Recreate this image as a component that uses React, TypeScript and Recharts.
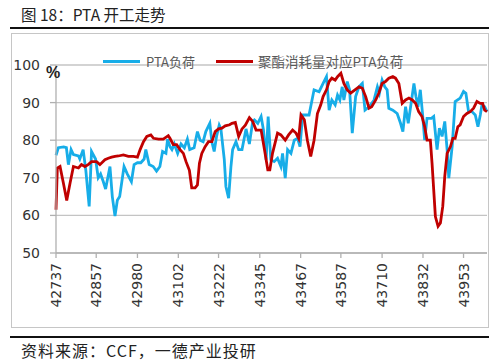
import React from 'react';
import { LineChart, Line, XAxis, YAxis, CartesianGrid } from 'recharts';

// Excel serial dates (x) and values for "PTA负荷"
const blueDates = [
  42737, 42744, 42760, 42768, 42774, 42782, 42789, 42804, 42808, 42818, 42826, 42836, 42843, 42855, 42863, 42870,
  42878, 42885, 42898, 42905, 42913, 42920, 42927, 42940, 42950, 42962, 42970, 42980, 42990, 43000, 43005, 43015,
  43027, 43037, 43047, 43055, 43065, 43070, 43077, 43083, 43090, 43100, 43110, 43120, 43129, 43136, 43149, 43159,
  43167, 43176, 43184, 43196, 43202, 43209, 43216, 43224, 43229, 43239, 43244, 43252, 43259, 43264, 43274, 43282,
  43292, 43304,
  43314, 43324, 43329, 43339, 43349, 43356, 43364, 43370, 43378, 43388, 43398, 43408, 43413, 43421, 43428, 43438,
  43448, 43458, 43465, 43473, 43482, 43492, 43507, 43522, 43534, 43544, 43552, 43560, 43570, 43577, 43584, 43591,
  43596, 43606, 43613, 43621, 43631, 43641, 43651, 43659, 43666, 43676, 43686, 43696, 43702, 43710, 43718, 43725,
  43730, 43742, 43755, 43765, 43772, 43780, 43788, 43798, 43805, 43811, 43817, 43824, 43831, 43837, 43844, 43857,
  43864, 43874, 43881, 43889, 43897, 43904, 43909, 43919, 43928, 43943, 43953, 43960, 43968, 43978, 43988, 43996,
  44003, 44008, 44016, 44023,
];
const blueValues = [
  76, 78, 78.2, 78, 73.5, 77.5, 76.2, 75.8, 75, 77.5, 72, 62.4, 77, 75, 70, 71,
  69, 67, 73, 65, 59.8, 64, 65, 73, 71, 69, 73.5, 74, 74, 75, 77.5, 73.5,
  73, 71.8, 73, 77, 76.5, 80.3, 78.3, 77.5, 79, 76.5, 79, 78, 80.3, 77.5, 78, 82.3,
  80, 79.6, 82.3, 84.5, 79.6, 77, 81, 84, 83, 75, 67.7, 64.6, 73, 77.5, 79.6, 77.5,
  77.5, 83,
  79, 85, 85.4, 84.5, 86.3, 82.7, 74.8, 86.3, 74.8, 74.3, 75.2, 73, 76.5, 69.9, 77.5, 76.5,
  80, 80.5, 78.3, 86.7, 86.7, 86.7, 93.4, 92.9, 95.1, 96.9, 88, 90.7, 89.4, 92, 90.7, 94.2,
  90.7, 95.6, 93.4, 81.9, 91.6, 94.2, 95.1, 88, 88.5, 89.4, 90.7, 94.2, 92.5, 96, 94.2, 93.4,
  88.5, 88, 87.1, 84.5, 82.3, 88.9, 84.5, 90.7, 95.1, 91.6, 88.9, 93.4, 86.7, 80, 85.8, 85.8,
  86.3, 77.5, 83.2, 81, 85, 77.5, 69.9, 78.3, 90.3, 91.2, 93, 92.5, 87.6, 87.6, 86.7, 83.6,
  86.7, 89.4, 88.9, 87.6,
];

// Excel serial dates (x) and values for "聚酯消耗量对应PTA负荷"
const redDates = [
  42737, 42741, 42749, 42759, 42769, 42779, 42789, 42804, 42813, 42823, 42833, 42843, 42858, 42868, 42883, 42893,
  42903, 42913, 42923, 42938, 42953, 42968, 42980, 42988, 42998, 43008, 43020, 43028, 43043, 43057, 43072, 43077,
  43087, 43097, 43107, 43117, 43125, 43135, 43142, 43152, 43159, 43165, 43172, 43182, 43192, 43202, 43212, 43222,
  43232, 43242, 43255, 43262, 43272, 43282, 43292, 43302,
  43314, 43324, 43334, 43349, 43359, 43369, 43375, 43383, 43398, 43408, 43421, 43431, 43443, 43453, 43461, 43468,
  43478, 43487, 43497, 43507, 43517, 43527, 43534, 43544, 43552, 43560, 43570, 43577, 43587, 43596, 43606, 43616,
  43629, 43641, 43651, 43661, 43671, 43679, 43691, 43700, 43710, 43720, 43730, 43742, 43750, 43760, 43770, 43780,
  43790, 43800, 43810, 43819, 43829, 43837, 43844, 43854, 43859, 43864, 43869, 43877, 43884, 43891, 43897, 43904,
  43914, 43921, 43928, 43936, 43943, 43953, 43963, 43973, 43983, 43993, 44003, 44010, 44016, 44023,
];
const redValues = [
  61.5, 72.6, 73, 68.6, 64, 68.6, 73, 72.6, 73.5, 73, 73.5, 74.3, 74.3, 73.5, 74.8, 75.2,
  75.5, 75.7, 75.8, 76.1, 75.7, 75.7, 75.5, 77.5, 79.6, 81, 81.4, 80.5, 80.3, 80.3, 81.2, 80.5,
  78.8, 78.8, 77.5, 76.5, 74.3, 72, 67.3, 67.3, 68.1, 73.9, 76.5, 78.3, 79.6, 79.6, 82.3, 83,
  83.2, 83.8, 84.1, 84.5, 84.7, 81, 83, 84,
  86, 85, 82.7, 82.7, 77.5, 72.1, 72.1, 76.5, 81.9, 81.4, 80, 81.4, 82.7, 81.9, 80.5, 86.7,
  85.4, 80, 75.7, 80, 87.1, 89.4, 91.6, 93.4, 95.6, 96.5, 96, 96.9, 97.8, 95.1, 93.4, 92.5,
  93.4, 94.2, 93.8, 91.6, 88.5, 88.9, 90.7, 92.5, 95.1, 95.6, 96.5, 96.9, 96.5, 95.1, 89.8, 90.7,
  91.2, 90.7, 89.8, 87.6, 86.3, 83.6, 80, 80, 73.9, 66.8, 59.7, 57.1, 58, 62.4, 70.4, 76.5,
  78.3, 80.5, 80.5, 83.6, 84.1, 86.3, 87.1, 87.6, 88.5, 90.3, 89.8, 89.8, 88, 87.6,
];

const xTicks = [42737, 42857, 42980, 43102, 43222, 43345, 43467, 43587, 43710, 43832, 43953];
const yTicks = [50, 60, 70, 80, 90, 100];
const seriesNames = ['PTA负荷', '聚酯消耗量对应PTA负荷'];

const blueData = blueDates.map((d, i) => ({ d, v: blueValues[i] }));
const redData = redDates.map((d, i) => ({ d, v: redValues[i] }));

const BLUE = '#17ade8';
const RED = '#c00000';
const GRID = '#c4c4c4';
const AXIS = '#b0b0b0';

const XTick = (props: any) => {
  const { x, y, payload } = props;
  return (
    <text
      x={x}
      y={y}
      dy="0.36em"
      transform={`rotate(-90, ${x}, ${y})`}
      textAnchor="end"
      fill="#333"
      fontSize={14}
      fontFamily="'DejaVu Sans', sans-serif"
    >
      {payload.value}
    </text>
  );
};

export default function App() {
  return (
    <div style={{ position: 'absolute', left: 0, top: 0, width: 500, height: 363, background: '#fff', overflow: 'hidden' }}>
      <div
        style={{
          position: 'absolute', left: 21, top: 5, fontSize: 15.5, lineHeight: '18px',
          fontFamily: "'Noto Sans CJK SC', sans-serif", color: '#222', whiteSpace: 'nowrap',
        }}
      >
        图 18：PTA 开工走势
      </div>
      <div style={{ position: 'absolute', left: 10, top: 27, width: 479, height: 2, background: '#111' }} />
      <div style={{ position: 'absolute', left: 11, top: 33, width: 478, height: 295, border: '1px solid #c6c6c6', boxSizing: 'border-box' }} />
      <div style={{ position: 'absolute', left: 0, top: 0 }}>
        <LineChart width={500} height={363} data={blueData} margin={{ top: 65, right: 13, bottom: 50, left: 10 }}>
          <CartesianGrid horizontal vertical={false} stroke={GRID} strokeWidth={1.3} />
          <XAxis
            dataKey="d"
            type="number"
            domain={[42737, 44023]}
            ticks={xTicks}
            interval={0}
            height={60}
            tickSize={5}
            tickMargin={5}
            axisLine={{ stroke: AXIS, strokeWidth: 1.3 }}
            tickLine={{ stroke: AXIS, strokeWidth: 1.3 }}
            tick={<XTick />}
          />
          <YAxis
            type="number"
            domain={[50, 100]}
            ticks={yTicks}
            interval={0}
            width={46}
            tickSize={6}
            tickMargin={10}
            axisLine={{ stroke: AXIS, strokeWidth: 1.3 }}
            tickLine={{ stroke: AXIS, strokeWidth: 1.3 }}
            tick={{ fill: '#333', fontSize: 14, fontFamily: "'DejaVu Sans', sans-serif" }}
          />
          <Line
            data={blueData}
            dataKey="v"
            name={seriesNames[0]}
            type="linear"
            stroke={BLUE}
            strokeWidth={2.8}
            dot={false}
            activeDot={false}
            isAnimationActive={false}
          />
          <Line
            data={redData}
            dataKey="v"
            name={seriesNames[1]}
            type="linear"
            stroke={RED}
            strokeWidth={2.8}
            dot={false}
            activeDot={false}
            isAnimationActive={false}
          />
        </LineChart>
      </div>
      <div
        style={{
          position: 'absolute', left: 46, top: 65, fontSize: 16, fontWeight: 'bold', lineHeight: '16px',
          fontFamily: "'Liberation Sans', sans-serif", color: '#222',
        }}
      >
        %
      </div>
      <div style={{ position: 'absolute', left: 103, top: 60, width: 37, height: 3, background: BLUE }} />
      <div
        style={{
          position: 'absolute', left: 146, top: 53, fontSize: 13, lineHeight: '17px',
          fontFamily: "'Noto Sans CJK SC', sans-serif", color: '#595959', whiteSpace: 'nowrap',
        }}
      >
        {seriesNames[0]}
      </div>
      <div style={{ position: 'absolute', left: 216, top: 60, width: 37, height: 3, background: RED }} />
      <div
        style={{
          position: 'absolute', left: 258, top: 53, fontSize: 13.5, lineHeight: '17px',
          fontFamily: "'Noto Sans CJK SC', sans-serif", color: '#595959', whiteSpace: 'nowrap',
        }}
      >
        {seriesNames[1]}
      </div>
      <div style={{ position: 'absolute', left: 10, top: 336, width: 479, height: 2, background: '#111' }} />
      <div
        style={{
          position: 'absolute', left: 21, top: 341, fontSize: 16, lineHeight: '19px', letterSpacing: '1px',
          fontFamily: "'Noto Sans CJK SC', sans-serif", color: '#222', whiteSpace: 'nowrap',
        }}
      >
        资料来源：CCF，一德产业投研
      </div>
    </div>
  );
}
